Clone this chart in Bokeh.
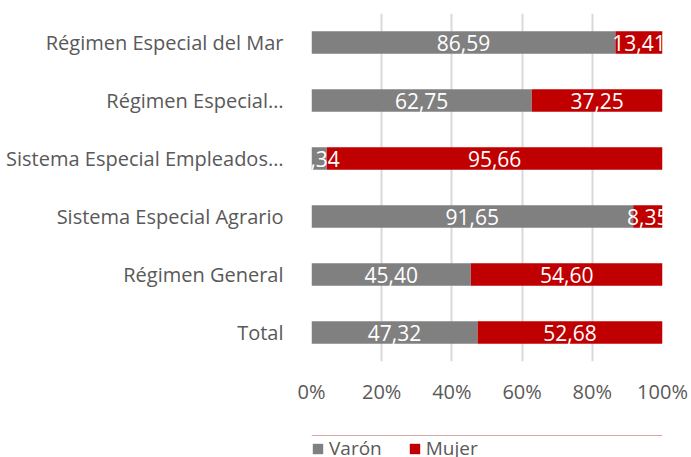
from bokeh.plotting import figure
from bokeh.layouts import column
from bokeh.models import ColumnDataSource, FactorRange, Legend, LegendItem, LabelSet, FixedTicker
from bokeh.core.properties import value
from bokeh.embed import file_html
from bokeh.resources import INLINE

categories = ["Total", "Régimen General", "Sistema Especial Agrario",
              "Sistema Especial Empleados…", "Régimen Especial…", "Régimen Especial del Mar"]
varon = [47.32, 45.40, 91.65, 4.34, 62.75, 86.59]
mujer = [52.68, 54.60, 8.35, 95.66, 37.25, 13.41]
series_names = ["Varón", "Mujer"]
tick_values = [0, 20, 40, 60, 80, 100]

FONT = "Open Sans"
GREY_TXT = "#595959"
C_VARON = "#808080"
C_MUJER = "#C00000"

fmt = lambda v: f"{v:.2f}".replace(".", ",")
src = ColumnDataSource(dict(
    cat=categories,
    varon=varon,
    mujer=mujer,
    varon_mid=[v / 2 for v in varon],
    mujer_mid=[v + m / 2 for v, m in zip(varon, mujer)],
    varon_lbl=[fmt(v) for v in varon],
    mujer_lbl=[fmt(m) for m in mujer],
))

p = figure(y_range=FactorRange(*categories), x_range=(0, 100),
           width=691, height=400, output_backend="svg", toolbar_location=None,
           min_border_left=311, min_border_right=29, min_border_top=13, min_border_bottom=0,
           frame_width=351, frame_height=348)
p.outline_line_color = None
p.background_fill_color = "white"
p.border_fill_color = "white"

rs = p.hbar_stack(["varon", "mujer"], y="cat", height=0.39, color=[C_VARON, C_MUJER],
                  line_color=None, source=src)

for xcol, tcol in (("varon_mid", "varon_lbl"), ("mujer_mid", "mujer_lbl")):
    p.add_layout(LabelSet(x=xcol, y="cat", text=tcol, source=src, text_align="center",
                          text_baseline="middle", text_color="white",
                          text_font=value(FONT), text_font_size="21px"))

p.xgrid.ticker = FixedTicker(ticks=tick_values)
p.xgrid.grid_line_color = "#d9d9d9"
p.xgrid.grid_line_width = 2
p.ygrid.grid_line_color = None

p.xaxis.ticker = FixedTicker(ticks=tick_values)
p.xaxis.major_label_overrides = {t: f"{t}%" for t in tick_values}
p.xaxis.axis_line_color = None
p.xaxis.major_tick_line_color = None
p.xaxis.minor_tick_line_color = None
p.xaxis.major_label_standoff = 10
p.xaxis.major_label_text_font = FONT
p.xaxis.major_label_text_font_size = "20px"
p.xaxis.major_label_text_color = GREY_TXT

p.yaxis.axis_line_color = None
p.yaxis.major_tick_line_color = None
p.yaxis.minor_tick_line_color = None
p.yaxis.major_label_standoff = 22
p.yaxis.major_label_text_font = FONT
p.yaxis.major_label_text_font_size = "20px"
p.yaxis.major_label_text_color = GREY_TXT

# legend strip below the chart (swatch renderers sit outside the visible range)
pl = figure(width=691, height=57, output_backend="svg", toolbar_location=None,
            x_axis_type=None, y_axis_type=None, x_range=(0, 1), y_range=(0, 1),
            min_border_left=241, min_border_right=0, min_border_top=28, min_border_bottom=0)
pl.outline_line_color = None
pl.grid.visible = False
swatch = ColumnDataSource(dict(y=[5], right=[5]))
r_v = pl.hbar(y="y", right="right", height=0.5, color=C_VARON, line_color=None, source=swatch)
r_m = pl.hbar(y="y", right="right", height=0.5, color=C_MUJER, line_color=None, source=swatch)
legend = Legend(items=[LegendItem(label=series_names[0], renderers=[r_v]),
                       LegendItem(label=series_names[1], renderers=[r_m])],
                orientation="horizontal", location="top_left",
                glyph_width=13, glyph_height=13, label_standoff=5, spacing=26,
                padding=0, margin=0, border_line_color=None, background_fill_alpha=0,
                label_text_font=FONT, label_text_font_size="19px", label_text_color=GREY_TXT)
pl.add_layout(legend, "center")

open("out.html", "w").write(file_html(column(p, pl, spacing=0), INLINE))
